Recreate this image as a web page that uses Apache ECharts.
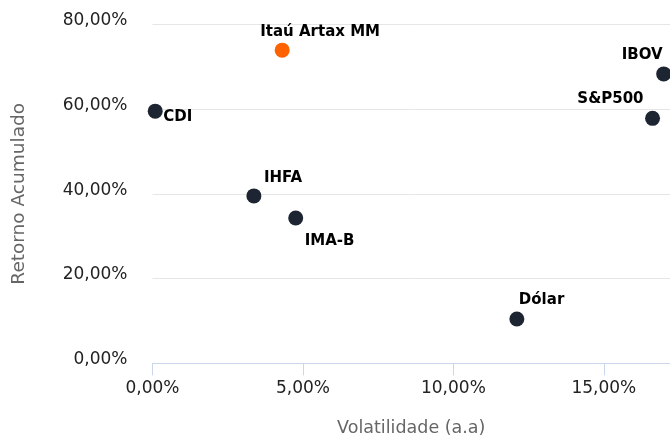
<!DOCTYPE html>
<html>
<head>
<meta charset="utf-8">
<script src="https://cdn.jsdelivr.net/npm/echarts@6/dist/echarts.min.js"></script>
<style>
html,body{margin:0;padding:0;background:#fff;}
#chart{width:670px;height:436px;}
</style>
</head>
<body>
<div id="chart"></div>
<script>
// Data (percent)
const names = ['Itaú Artax MM', 'CDI', 'IHFA', 'IMA-B', 'Dólar', 'S&P500', 'IBOV'];
const volatility = [4.31, 0.09, 3.37, 4.76, 12.11, 16.62, 16.99];
const cumulativeReturn = [73.9, 59.5, 39.5, 34.3, 10.45, 57.8, 68.3];
const xTicks = [0, 5, 10, 15];
const yTicks = [0, 20, 40, 60, 80];

// Styling (not data)
const pointColors = ['#ff6200', '#1e2532', '#1e2532', '#1e2532', '#1e2532', '#1e2532', '#1e2532'];
const labelPlacement = [
  {align: 'left', offset: [-22, -18]},
  {align: 'left', offset: [8, 6]},
  {align: 'left', offset: [10, -18]},
  {align: 'left', offset: [9, 23]},
  {align: 'left', offset: [2, -19]},
  {align: 'right', offset: [-9, -19]},
  {align: 'right', offset: [-1, -19]}
];

const fmt = v => v.toFixed(2).replace('.', ',') + '%';

const seriesData = names.map((n, i) => ({
  name: n,
  value: [volatility[i], cumulativeReturn[i]],
  itemStyle: {color: pointColors[i], opacity: 1},
  label: {
    show: true,
    position: 'inside',
    align: labelPlacement[i].align,
    verticalAlign: 'middle',
    offset: labelPlacement[i].offset,
    formatter: n
  }
}));

const chart = echarts.init(document.getElementById('chart'), null, {renderer: 'canvas'});
chart.setOption({
  animation: false,
  backgroundColor: '#ffffff',
  grid: {left: 152.5, right: 0, top: 24.3, bottom: 72.7, containLabel: false, outerBoundsMode: 'none'},
  xAxis: {
    type: 'value',
    min: xTicks[0],
    max: 17.2,
    interval: 5,
    name: 'Volatilidade (a.a)',
    nameLocation: 'middle',
    nameGap: 56,
    nameTextStyle: {color: '#666666', fontSize: 17.5, fontFamily: 'DejaVu Sans'},
    axisLine: {show: true, lineStyle: {color: '#ccd6eb', width: 1}},
    axisTick: {show: true, length: 12, lineStyle: {color: '#ccd6eb'}},
    axisLabel: {
      color: '#222222', fontSize: 17, fontFamily: 'DejaVu Sans', margin: 17,
      showMaxLabel: false,
      formatter: v => xTicks.includes(v) ? fmt(v) : ''
    },
    splitLine: {show: false}
  },
  yAxis: {
    type: 'value',
    min: yTicks[0],
    max: yTicks[yTicks.length - 1],
    interval: 20,
    name: 'Retorno Acumulado',
    nameLocation: 'middle',
    nameGap: 124,
    nameTextStyle: {color: '#666666', fontSize: 18.5, fontFamily: 'DejaVu Sans'},
    axisLine: {show: false},
    axisTick: {show: false},
    axisLabel: {
      color: '#222222', fontSize: 17, fontFamily: 'DejaVu Sans', margin: 25,
      verticalAlign: 'bottom', lineHeight: 7,
      formatter: v => fmt(v)
    },
    splitLine: {show: true, lineStyle: {color: '#e6e6e6', width: 1}}
  },
  series: [{
    type: 'scatter',
    symbolSize: 15,
    data: seriesData,
    itemStyle: {opacity: 1},
    label: {
      color: '#000000',
      fontSize: 15,
      fontWeight: 'bold',
      fontFamily: 'DejaVu Sans',
      textBorderWidth: 0
    },
    emphasis: {disabled: true}
  }]
});
</script>
</body>
</html>
